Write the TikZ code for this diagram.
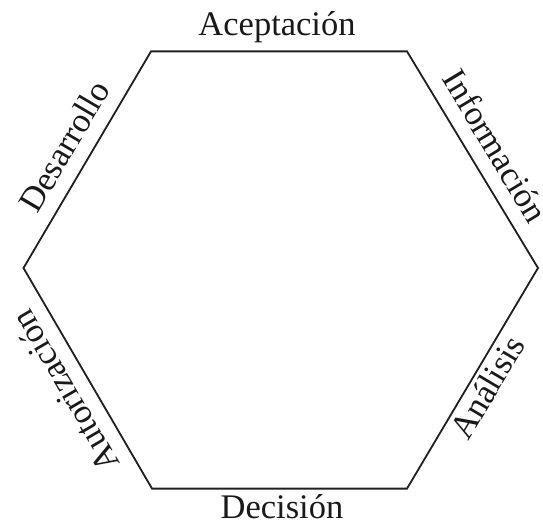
\documentclass[tikz,border=0pt]{standalone}
\usepackage{fontspec}
\setmainfont{Liberation Serif}
\usetikzlibrary{calc}

\begin{document}
\begin{tikzpicture}[
  x=1pt, y=1pt,
  side/.style={draw=black!88, line width=1.8pt, line join=miter},
  lbl/.style={font=\fontsize{34.5}{40}\selectfont, text=black!90, inner sep=0pt, anchor=base}
]
\useasboundingbox (0,0) rectangle (543,525);
\coordinate (tl) at (151,473.6);
\coordinate (tr) at (407,473.6);
\coordinate (r) at (538,257);
\coordinate (br) at (407,36.4);
\coordinate (bl) at (152,36.4);
\coordinate (l) at (23.5,257);
\draw[side] (tl) -- (tr) -- (r) -- (br) -- (bl) -- (l) -- cycle;
\coordinate (mdes) at ($(l)!0.5!(tl)$);
\coordinate (minf) at ($(tr)!0.5!(r)$);
\coordinate (mana) at ($(br)!0.5!(r)$);
\coordinate (maut) at ($(bl)!0.5!(l)$);
\node[lbl] (acep) at (277,489) {Aceptación};
\node[lbl] (deci) at (282,7) {Decisión};
\node[lbl, rotate=59.5] (desa) at ($(mdes)!15pt!90:(tl)$) {Desarrollo};
\node[lbl, rotate=-58.9] (info) at ($(minf)!15pt!90:(r)$) {Información};
\node[lbl, rotate=59.3] (anal) at ($(mana)!29pt!-90:(r)$) {Análisis};
\node[lbl, rotate=120.2] (auto) at ($(maut)!15pt!90:(l)$) {Autorización};
\end{tikzpicture}
\end{document}
